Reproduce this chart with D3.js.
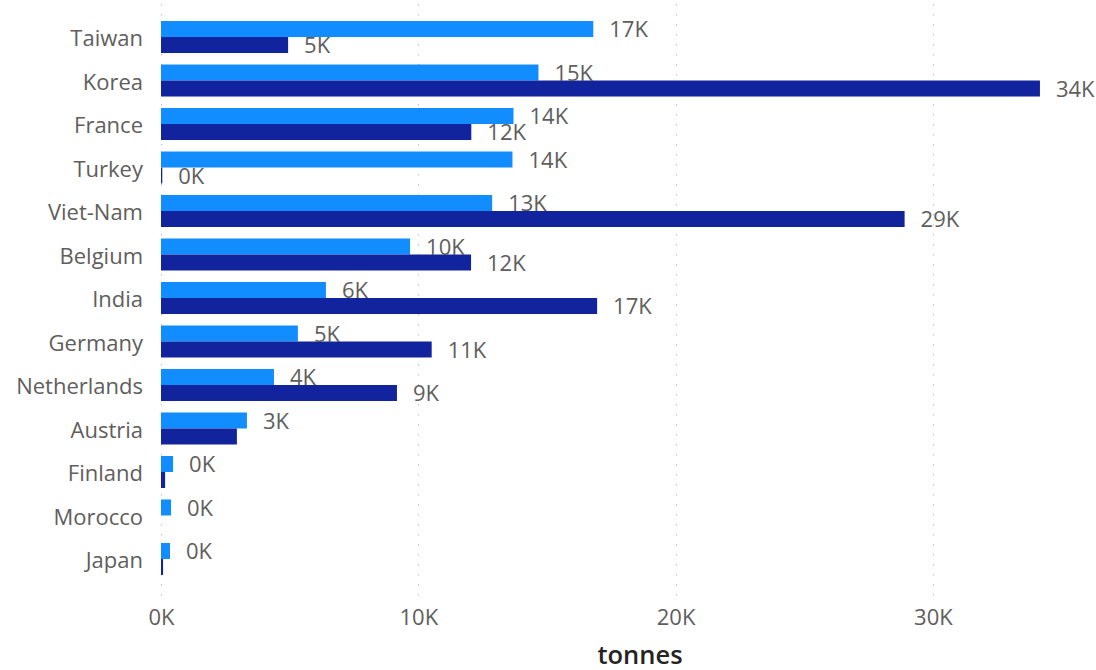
<!DOCTYPE html>
<html>
<head>
<meta charset="utf-8">
<script src="https://cdn.jsdelivr.net/npm/d3@7"></script>
<style>
  html, body { margin: 0; padding: 0; background: #ffffff; }
  svg { display: block; font-family: "Open Sans", "Noto Sans", sans-serif; }
</style>
</head>
<body>
<svg id="chart" width="1096" height="670"></svg>
<script>
// ---- data (tonnes) ----
const categories = ["Taiwan","Korea","France","Turkey","Viet-Nam","Belgium","India","Germany","Netherlands","Austria","Finland","Morocco","Japan"];
const seriesLight = [16800, 14670, 13700, 13660, 12870, 9680, 6410, 5320, 4390, 3340, 470, 390, 350];
const seriesDark  = [4940, 34160, 12060, 50, 28900, 12050, 16950, 10520, 9170, 2950, 160, null, 80];
const xTicks = [0, 10000, 20000, 30000];
const axisTitle = "tonnes";

const svg = d3.select("#chart");
const labelColor = "#605E5C";
const colorLight = "#118DFF";
const colorDark = "#12239E";

const x = d3.scaleLinear().domain([0, 36000]).range([161, 161 + 36 * 25.73]);
const y = d3.scaleBand().domain(categories).range([5.8, 590.2]).paddingInner(0.2644).paddingOuter(0.35);
const ySub = d3.scaleBand().domain(["light", "dark"]).range([0, y.bandwidth()]);

const fmt = v => Math.round(v / 1000) + "K";

// gridlines
svg.append("g").selectAll("line").data(xTicks).join("line")
  .attr("x1", d => Math.round(x(d)) + 0.5).attr("x2", d => Math.round(x(d)) + 0.5)
  .attr("y1", 4).attr("y2", 597)
  .attr("stroke", "#c8c6c4").attr("stroke-width", 1.2)
  .attr("stroke-dasharray", "1.5 8.5");

// x axis labels
const xAxis = d3.axisBottom(x).tickValues(xTicks).tickFormat(fmt).tickSize(0).tickPadding(0);
const gx = svg.append("g").attr("transform", "translate(0,609)").call(xAxis);
gx.select(".domain").remove();
gx.selectAll("text").attr("font-size", 22).attr("fill", labelColor)
  .attr("font-family", "'Open Sans','Noto Sans',sans-serif").attr("dy", "0.71em");

// y axis labels
const yAxis = d3.axisLeft(y).tickSize(0).tickPadding(0);
const gy = svg.append("g").attr("transform", "translate(143,0)").call(yAxis);
gy.select(".domain").remove();
gy.selectAll("text").attr("font-size", 22).attr("fill", labelColor)
  .attr("font-family", "'Open Sans','Noto Sans',sans-serif").attr("dy", "0.41em");

// bars
const rows = categories.map((c, i) => ({ c, light: seriesLight[i], dark: seriesDark[i] }));
const barsG = svg.append("g");
rows.forEach(r => {
  [["light", r.light, colorLight], ["dark", r.dark, colorDark]].forEach(([k, v, col]) => {
    if (v == null) return;
    barsG.append("rect")
      .attr("x", x(0)).attr("y", y(r.c) + ySub(k))
      .attr("width", Math.max(0, x(v) - x(0))).attr("height", ySub.bandwidth())
      .attr("fill", col);
  });
});

// data labels with simple overlap hiding
const labelsG = svg.append("g").attr("font-size", 22).attr("fill", labelColor);
const placed = [];
function overlaps(a, b) {
  return a.x < b.x + b.w && b.x < a.x + a.w && a.y < b.y + b.h && b.y < a.y + a.h;
}
["light", "dark"].forEach(k => {
  rows.forEach(r => {
    const v = r[k];
    if (v == null) return;
    const t = labelsG.append("text")
      .attr("x", x(v) + 16)
      .attr("y", y(r.c) + ySub(k) + ySub.bandwidth() / 2)
      .attr("dy", "0.38em")
      .text(fmt(v));
    const bb = t.node().getBBox();
    const box = { x: bb.x, y: bb.y + 5, w: bb.width, h: bb.height - 10 };
    if (placed.some(p => overlaps(p, box))) { t.remove(); return; }
    placed.push(box);
  });
});

// axis title
svg.append("text").attr("x", 640).attr("y", 664)
  .attr("text-anchor", "middle").attr("font-size", 25.5).attr("font-weight", 600)
  .attr("fill", "#252423").text(axisTitle);
</script>
</body>
</html>
